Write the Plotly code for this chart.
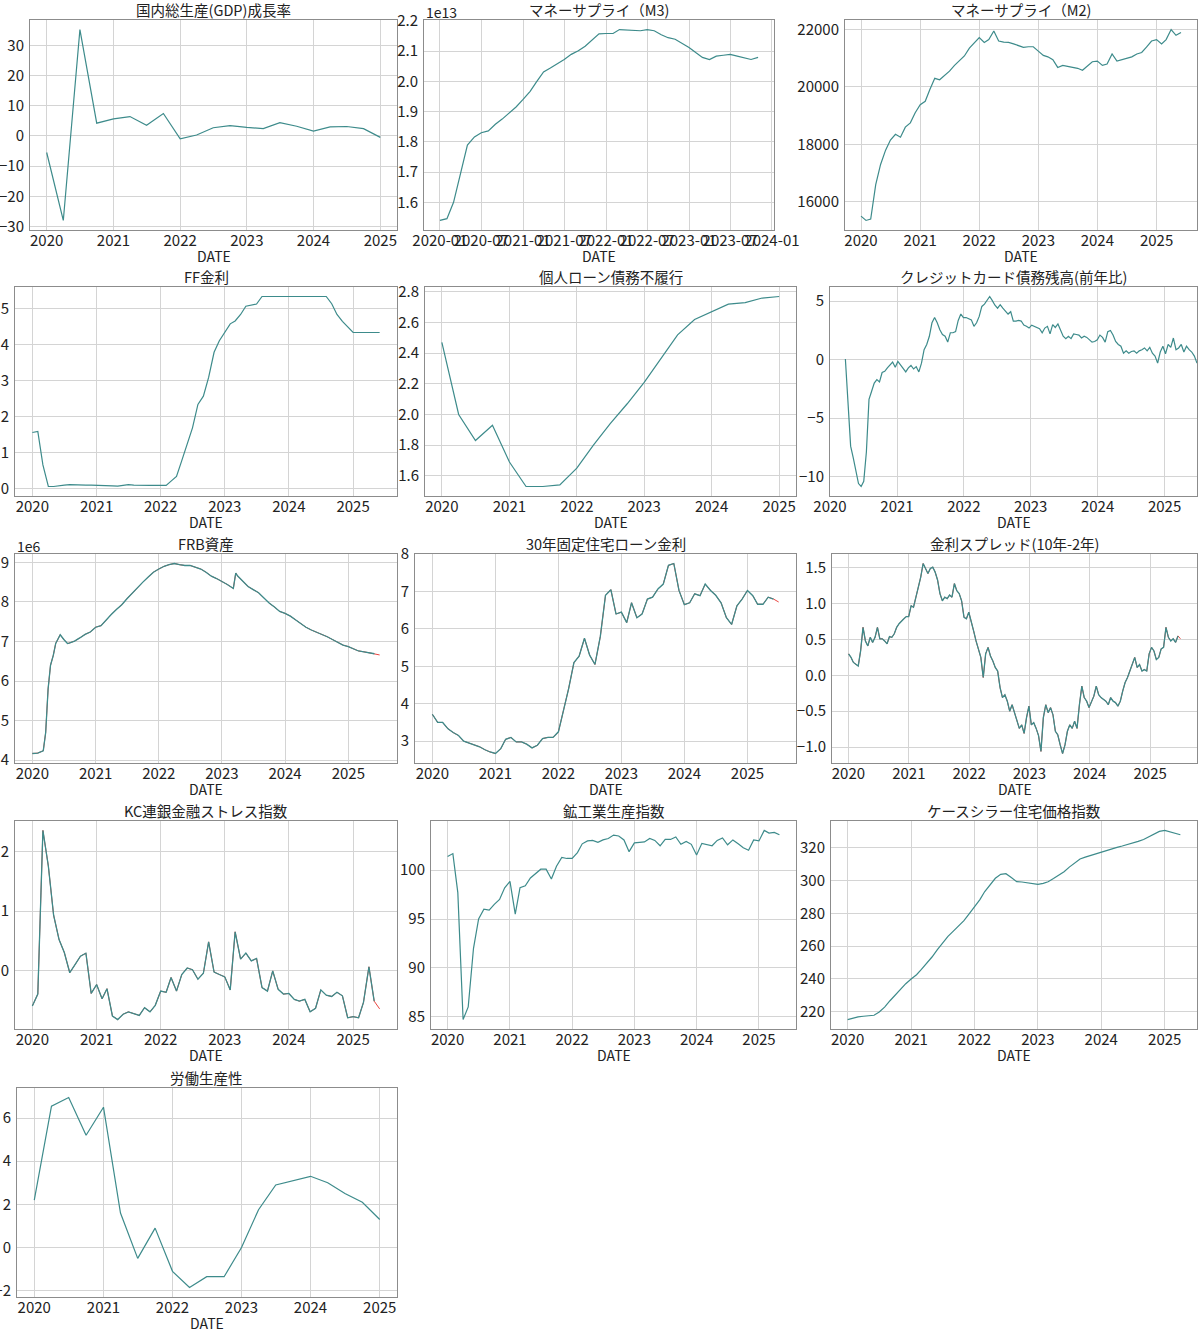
import pandas as pd
import plotly.graph_objects as go

W, H = 1200, 1333
TEAL = "#3d8b8b"
RED = "#e8302a"
FONT = "Noto Sans CJK JP"
YEARS = list(range(2020, 2026))

# ---- data ----
gdp_dates = pd.date_range("2020-01-01", periods=21, freq="QS")
gdp = [-5.5, -28.0, 35.2, 4.2, 5.6, 6.4, 3.5, 7.4, -1.0, 0.3, 2.7, 3.4,
       2.8, 2.4, 4.4, 3.2, 1.6, 3.0, 3.1, 2.4, -0.5]

m3_dates = pd.date_range("2020-01-01", periods=47, freq="MS")
m3 = [1.540, 1.546, 1.600, 1.700, 1.789, 1.816, 1.830, 1.836, 1.858, 1.875, 1.896, 1.915,
      1.940, 1.967, 1.998, 2.031, 2.044, 2.057, 2.072, 2.089, 2.101, 2.116, 2.136, 2.157,
      2.158, 2.158, 2.171, 2.169, 2.167, 2.167, 2.171, 2.167, 2.154, 2.144, 2.139, 2.127,
      2.112, 2.094, 2.079, 2.072, 2.083, 2.086, 2.089, 2.083, 2.078, 2.072, 2.079]

m2_dates = pd.date_range("2020-01-01", periods=66, freq="MS")
m2 = [15500, 15350, 15400, 16600, 17300, 17800, 18150, 18350, 18250, 18600, 18750, 19100,
      19380, 19500, 19900, 20300, 20250, 20400, 20550, 20750, 20900, 21080, 21350, 21550,
      21720, 21550, 21650, 21950, 21600, 21560, 21550, 21500, 21440, 21380, 21400, 21400,
      21250, 21100, 21050, 20950, 20680, 20750, 20720, 20680, 20650, 20580, 20750, 20880,
      20900, 20750, 20800, 21150, 20900, 20950, 21000, 21050, 21150, 21200, 21400, 21600,
      21650, 21500, 21650, 22000, 21800, 21900]

ff_dates = pd.date_range("2020-01-01", periods=66, freq="MS")
ff = [1.55, 1.58, 0.65, 0.05, 0.05, 0.08, 0.09, 0.10, 0.09, 0.09, 0.09, 0.09,
      0.09, 0.08, 0.07, 0.07, 0.06, 0.08, 0.10, 0.09, 0.08, 0.08, 0.08, 0.08,
      0.08, 0.08, 0.20, 0.33, 0.77, 1.21, 1.68, 2.33, 2.56, 3.08, 3.78, 4.10,
      4.33, 4.57, 4.65, 4.83, 5.06, 5.08, 5.12, 5.33, 5.33, 5.33, 5.33, 5.33,
      5.33, 5.33, 5.33, 5.33, 5.33, 5.33, 5.33, 5.33, 5.13, 4.83, 4.64, 4.48,
      4.33, 4.33, 4.33, 4.33, 4.33, 4.33]

loan_dates = pd.date_range("2020-01-01", periods=21, freq="QS")
loan = [2.47, 2.00, 1.83, 1.93, 1.69, 1.53, 1.53, 1.54, 1.65, 1.80, 1.94, 2.07,
        2.21, 2.36, 2.52, 2.62, 2.67, 2.72, 2.73, 2.76, 2.77]

card = [0.05, -3.3, -7.4, -8.4, -9.4, -10.6, -10.85, -10.4, -7.9, -3.4, -2.7, -2.0,
        -1.7, -1.9, -1.1, -1.0, -0.7, -0.4, -0.2, -0.65, -0.15, -0.45, -0.8, -1.05,
        -0.7, -0.5, -0.8, -0.6, -1.05, -0.3, 0.85, 1.3, 2.0, 3.15, 3.6, 3.15, 2.55,
        2.15, 2.0, 1.5, 2.3, 2.3, 2.4, 3.35, 3.9, 3.6, 3.6, 3.5, 3.4, 2.85, 3.15, 3.7,
        4.55, 4.75, 5.05, 5.4, 5.05, 4.65, 4.4, 4.7, 4.4, 4.15, 3.9, 4.1, 3.3, 3.3,
        3.35, 3.3, 2.95, 2.85, 2.7, 2.95, 2.85, 2.7, 2.65, 2.3, 2.7, 2.85, 2.2, 3.0,
        2.75, 3.05, 2.55, 2.0, 1.8, 2.0, 1.8, 2.2, 2.15, 2.1, 1.85, 2.0, 1.9, 1.7,
        1.5, 1.55, 1.7, 2.1, 1.9, 1.5, 2.4, 2.5, 2.1, 1.55, 1.3, 1.15, 0.55, 0.75,
        0.55, 0.7, 0.75, 0.55, 0.75, 0.85, 1.0, 0.75, 1.05, 0.55, 0.3, -0.3, 0.65,
        1.15, 0.5, 1.3, 1.05, 1.85, 0.85, 1.0, 1.3, 0.65, 1.15, 0.85, 0.65, 0.3, -0.3]
card_dates = pd.date_range("2020-03-25", "2025-06-27", periods=len(card))

frb_dates = ["2020-01-01", "2020-02-01", "2020-03-04", "2020-03-18", "2020-03-25",
             "2020-04-01", "2020-04-15", "2020-05-01", "2020-05-15", "2020-06-03",
             "2020-06-10", "2020-07-01", "2020-07-22", "2020-08-01", "2020-09-01",
             "2020-10-01", "2020-11-01", "2020-12-01",
             "2021-01-01", "2021-02-01", "2021-03-01", "2021-04-01", "2021-05-01",
             "2021-06-01", "2021-07-01", "2021-08-01", "2021-09-01", "2021-10-01",
             "2021-11-01", "2021-12-01",
             "2022-01-01", "2022-02-01", "2022-03-01", "2022-04-01", "2022-05-01",
             "2022-06-01", "2022-07-01", "2022-08-01", "2022-09-01", "2022-10-01",
             "2022-11-01", "2022-12-01",
             "2023-01-01", "2023-02-01", "2023-03-08", "2023-03-22", "2023-04-01",
             "2023-05-01", "2023-06-01", "2023-07-01", "2023-08-01", "2023-09-01",
             "2023-10-01", "2023-11-01", "2023-12-01",
             "2024-01-01", "2024-02-01", "2024-03-01", "2024-04-01", "2024-05-01",
             "2024-06-01", "2024-07-01", "2024-08-01", "2024-09-01", "2024-10-01",
             "2024-11-01", "2024-12-01",
             "2025-01-01", "2025-02-01", "2025-03-01", "2025-04-01", "2025-05-01",
             "2025-06-01", "2025-07-01"]
frb = [4.17, 4.18, 4.24, 4.70, 5.25, 5.80, 6.40, 6.65, 6.95, 7.10, 7.17, 7.05, 6.95,
       6.96, 7.01, 7.09, 7.18, 7.24,
       7.36, 7.40, 7.54, 7.68, 7.81, 7.93, 8.08, 8.23, 8.38, 8.50, 8.63, 8.75,
       8.83, 8.90, 8.94, 8.97, 8.94, 8.92, 8.92, 8.87, 8.83, 8.75, 8.65, 8.59,
       8.52, 8.44, 8.34, 8.73, 8.66, 8.52, 8.39, 8.31, 8.23, 8.10, 7.97, 7.87, 7.76,
       7.71, 7.64, 7.55, 7.45, 7.36, 7.29, 7.24, 7.18, 7.12, 7.05, 6.98, 6.91,
       6.87, 6.82, 6.76, 6.74, 6.71, 6.69, 6.66]

mort_dates = pd.date_range("2020-01-01", periods=67, freq="MS")
mort = [3.72, 3.50, 3.50, 3.33, 3.23, 3.15, 3.00, 2.95, 2.89, 2.85, 2.77, 2.71,
        2.67, 2.80, 3.05, 3.10, 2.98, 2.98, 2.92, 2.82, 2.89, 3.07, 3.10, 3.10,
        3.25, 3.85, 4.40, 5.10, 5.27, 5.75, 5.30, 5.05, 5.80, 6.90, 7.05, 6.40,
        6.45, 6.17, 6.70, 6.30, 6.40, 6.80, 6.85, 7.07, 7.20, 7.70, 7.75, 7.03,
        6.65, 6.70, 6.94, 6.89, 7.20, 7.03, 6.90, 6.70, 6.30, 6.12, 6.62, 6.80,
        7.03, 6.89, 6.66, 6.66, 6.85, 6.80, 6.72]

spread = [0.30, 0.25, 0.18, 0.15, 0.13, 0.34, 0.67, 0.48, 0.41, 0.53, 0.46, 0.53, 0.67,
          0.51, 0.51, 0.48, 0.44, 0.54, 0.53, 0.58, 0.67, 0.72, 0.76, 0.79, 0.82, 0.82,
          0.97, 0.95, 1.09, 1.23, 1.37, 1.56, 1.49, 1.42, 1.49, 1.51, 1.44, 1.33, 1.14,
          1.04, 1.09, 1.07, 1.12, 1.09, 1.28, 1.18, 1.14, 1.04, 0.81, 0.79, 0.88, 0.76,
          0.62, 0.48, 0.37, 0.25, -0.03, 0.30, 0.39, 0.27, 0.20, 0.11, 0.06, -0.17,
          -0.31, -0.27, -0.36, -0.50, -0.41, -0.52, -0.64, -0.74, -0.69, -0.81, -0.59,
          -0.43, -0.69, -0.66, -0.74, -0.84, -1.06, -0.59, -0.41, -0.52, -0.45, -0.55,
          -0.78, -0.83, -0.97, -1.09, -0.97, -0.78, -0.69, -0.74, -0.64, -0.74, -0.41,
          -0.15, -0.31, -0.36, -0.45, -0.36, -0.29, -0.15, -0.27, -0.31, -0.34, -0.36,
          -0.41, -0.31, -0.36, -0.38, -0.43, -0.36, -0.22, -0.10, -0.03, 0.06, 0.15,
          0.25, 0.11, 0.15, 0.06, 0.08, 0.06, 0.30, 0.39, 0.34, 0.22, 0.25, 0.37, 0.39,
          0.67, 0.53, 0.48, 0.51, 0.46, 0.55, 0.51]
spread_dates = pd.date_range("2020-01-02", "2025-07-03", periods=len(spread))

kc_dates = pd.date_range("2020-01-01", periods=66, freq="MS")
kc = [-0.60, -0.40, 2.36, 1.76, 0.93, 0.52, 0.30, -0.04, 0.10, 0.24, 0.29, -0.39,
      -0.24, -0.48, -0.31, -0.77, -0.83, -0.74, -0.70, -0.73, -0.76, -0.63, -0.70, -0.59,
      -0.35, -0.37, -0.12, -0.35, -0.07, 0.04, 0.01, -0.15, -0.05, 0.48, -0.03, -0.07,
      -0.11, -0.33, 0.65, 0.19, 0.29, 0.16, 0.20, -0.29, -0.35, -0.01, -0.32, -0.40,
      -0.39, -0.49, -0.52, -0.49, -0.70, -0.64, -0.33, -0.42, -0.44, -0.37, -0.43, -0.80,
      -0.78, -0.80, -0.54, 0.06, -0.52, -0.65]

ip_dates = pd.date_range("2020-01-01", periods=65, freq="MS")
ip = [101.4, 101.7, 97.7, 84.7, 86.0, 92.0, 95.0, 96.0, 95.9, 96.5, 97.0, 98.2,
      98.85, 95.5, 98.2, 98.4, 99.2, 99.7, 100.1, 100.1, 99.1, 100.4, 101.3, 101.2,
      101.2, 101.8, 102.7, 103.0, 103.05, 102.85, 103.1, 103.25, 103.6, 103.5, 103.1, 101.9,
      102.8, 102.85, 102.9, 103.25, 103.05, 102.5, 103.15, 103.15, 103.4, 102.65, 102.95, 102.65,
      101.55, 102.75, 102.6, 102.5, 103.05, 103.3, 102.6, 103.1, 102.7, 102.3, 102.05, 103.1,
      103.0, 104.07, 103.8, 103.87, 103.63]

cs_dates = pd.date_range("2020-01-01", periods=64, freq="MS")
cs = [215.2, 216.2, 216.8, 217.2, 217.4, 217.8, 219.8, 222.8, 226.7, 230.3, 233.7, 237.1,
      240.0, 242.6, 245.8, 249.4, 253.4, 257.9, 262.1, 266.0, 269.2, 272.4, 275.6, 279.7,
      284.1, 288.5, 293.4, 297.8, 301.5, 303.9, 304.3, 301.9, 299.4, 299.2, 298.6, 298.2,
      297.8, 298.4, 299.4, 301.3, 303.3, 305.5, 308.3, 310.9, 313.3, 314.4, 315.4, 316.4,
      317.6, 318.8, 319.6, 320.4, 321.2, 322.0, 322.8, 324.0, 325.2, 326.9, 328.9, 330.1,
      330.7, 329.7, 328.7, 328.1]

prod_dates = pd.date_range("2020-01-01", periods=21, freq="QS")
prod = [2.2, 6.55, 6.95, 5.2, 6.5, 1.6, -0.5, 0.9, -1.1, -1.85, -1.35, -1.35,
        0.0, 1.75, 2.9, 3.1, 3.3, 3.0, 2.5, 2.1, 1.3]

# ---- panels: title, x, y, red underlay?, y ticks, pixel box (left, right, top, bottom) ----
panels = [
    dict(t="国内総生産(GDP)成長率", x=gdp_dates, y=gdp, yt=[-30, -20, -10, 0, 10, 20, 30], box=(30, 397, 20, 230)),
    dict(t="マネーサプライ（M3)", x=m3_dates, y=m3, yt=[1.6, 1.7, 1.8, 1.9, 2.0, 2.1, 2.2],
         fmt=".1f", box=(424, 774, 20, 230), expo="1e13", half_year=True),
    dict(t="マネーサプライ（M2)", x=m2_dates, y=m2, yt=[16000, 18000, 20000, 22000], fmt="d", box=(845, 1197, 20, 230)),
    dict(t="FF金利", x=ff_dates, y=ff, yt=[0, 1, 2, 3, 4, 5], box=(15, 397, 287, 496)),
    dict(t="個人ローン債務不履行", x=loan_dates, y=loan, yt=[1.6, 1.8, 2.0, 2.2, 2.4, 2.6, 2.8],
         fmt=".1f", box=(425, 796, 287, 496)),
    dict(t="クレジットカード債務残高(前年比)", x=card_dates, y=card, yt=[-10, -5, 0, 5],
         box=(830, 1197, 287, 496), tight=True),
    dict(t="FRB資産", x=pd.to_datetime(frb_dates), y=frb, yt=[4, 5, 6, 7, 8, 9], box=(15, 397, 554, 763),
         expo="1e6", red=True),
    dict(t="30年固定住宅ローン金利", x=mort_dates, y=mort, yt=[3, 4, 5, 6, 7, 8], box=(415, 796, 554, 763), red=True),
    dict(t="金利スプレッド(10年-2年)", x=spread_dates, y=spread, yt=[-1.0, -0.5, 0.0, 0.5, 1.0, 1.5],
         fmt=".1f", box=(832, 1197, 554, 763), red=True),
    dict(t="KC連銀金融ストレス指数", x=kc_dates, y=kc, yt=[0, 1, 2], box=(15, 397, 821, 1029), red=True),
    dict(t="鉱工業生産指数", x=ip_dates, y=ip, yt=[85, 90, 95, 100], box=(431, 796, 821, 1029)),
    dict(t="ケースシラー住宅価格指数", x=cs_dates, y=cs, yt=[220, 240, 260, 280, 300, 320], box=(831, 1197, 821, 1029)),
    dict(t="労働生産性", x=prod_dates, y=prod, yt=[-2, 0, 2, 4, 6], box=(17, 397, 1088, 1297)),
]

fig = go.Figure()
layout = {}
annotations = []

for i, p in enumerate(panels, start=1):
    xs = pd.Series(p["x"])
    l, r, t, b = p["box"]
    xa, ya = f"x{i}", f"y{i}"

    if p.get("red"):
        # red full series underneath, teal drawn up to the previous point
        fig.add_trace(go.Scatter(x=xs, y=p["y"], mode="lines", line=dict(color=RED, width=0.9),
                                 xaxis=xa, yaxis=ya, showlegend=False, hoverinfo="skip"))
        fig.add_trace(go.Scatter(x=xs[:-1], y=p["y"][:-1], mode="lines", line=dict(color=TEAL, width=1.3),
                                 xaxis=xa, yaxis=ya, showlegend=False))
    else:
        fig.add_trace(go.Scatter(x=xs, y=p["y"], mode="lines", line=dict(color=TEAL, width=1.2),
                                 xaxis=xa, yaxis=ya, showlegend=False))

    # matplotlib-like 5% margins
    x0, x1 = xs.min(), xs.max()
    dx = (x1 - x0) * 0.05
    xr = [pd.Timestamp("2020-01-01"), x1] if p.get("tight") else [x0 - dx, x1 + dx]
    y0, y1 = min(p["y"]), max(p["y"])
    dy = (y1 - y0) * 0.05

    if p.get("half_year"):
        xt = pd.date_range("2020-01-01", "2024-01-01", freq="6MS")
        xtt = [d.strftime("%Y-%m") for d in xt]
    else:
        xt = [pd.Timestamp(f"{yr}-01-01") for yr in YEARS]
        xtt = [str(yr) for yr in YEARS]

    common = dict(showgrid=True, gridcolor="#d4d4d4", gridwidth=1, showline=True, mirror=True,
                  linecolor="#8c8c8c", linewidth=1, zeroline=False, ticks="", automargin=False,
                  tickfont=dict(family=FONT, size=15, color="#222222"))
    key = "" if i == 1 else str(i)
    layout[f"xaxis{key}"] = dict(common, domain=[l / W, r / W], anchor=ya, range=xr,
                                 tickvals=list(xt), ticktext=xtt, tickangle=0, ticklabelstandoff=-3)
    ydict = dict(common, domain=[1 - b / H, 1 - t / H], anchor=xa, range=[y0 - dy, y1 + dy],
                 tickvals=p["yt"], ticklabelstandoff=2)
    if p.get("fmt"):
        ydict["tickformat"] = p["fmt"]
    layout[f"yaxis{key}"] = ydict

    annotations.append(dict(text=p["t"], x=(l + r) / 2 / W, y=1 - (t - 10.5) / H, xref="paper", yref="paper",
                            xanchor="center", yanchor="middle", showarrow=False,
                            font=dict(family=FONT, size=14.5, color="#222222")))
    annotations.append(dict(text="DATE", x=(l + r) / 2 / W, y=1 - (b + 26) / H, xref="paper", yref="paper",
                            xanchor="center", yanchor="middle", showarrow=False,
                            font=dict(family=FONT, size=14, color="#222222")))
    if p.get("expo"):
        annotations.append(dict(text=p["expo"], x=l / W, y=1 - (t - 8) / H, xref="paper", yref="paper",
                                xanchor="left", yanchor="middle", showarrow=False,
                                font=dict(family=FONT, size=14, color="#222222")))

fig.update_layout(layout)
fig.update_layout(width=W, height=H, margin=dict(l=0, r=0, t=0, b=0),
                  paper_bgcolor="white", plot_bgcolor="white",
                  font=dict(family=FONT, color="#222222"), annotations=annotations)

# page body margin would shift the figure by 8px
fig.write_html("out.html", config={"displayModeBar": False},
               post_script="document.body.style.margin='0';")
